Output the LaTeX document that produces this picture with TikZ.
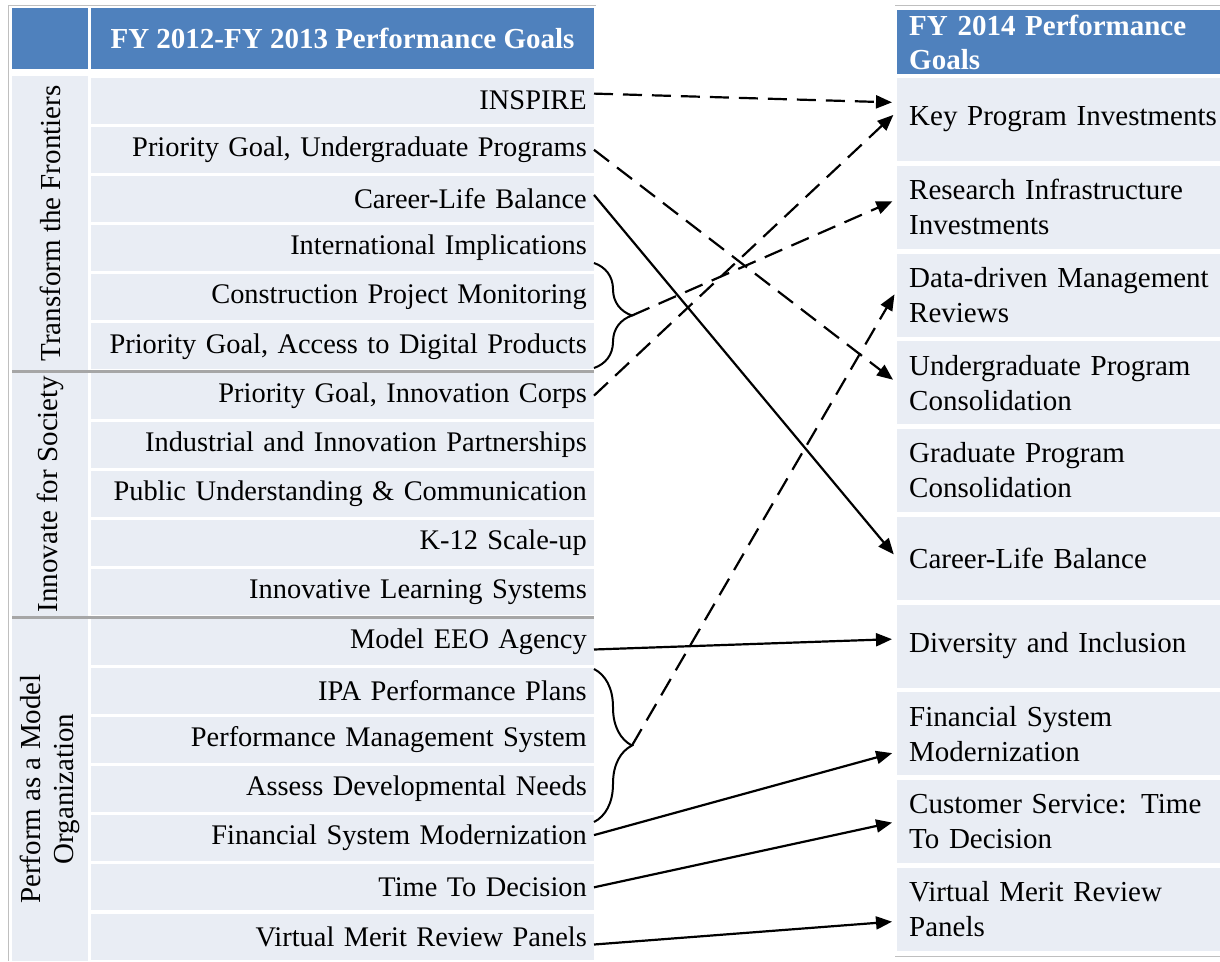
\documentclass[tikz,border=0pt]{standalone}
\usepackage{fontspec}
\setmainfont{Liberation Serif}
\usetikzlibrary{arrows.meta,decorations.pathreplacing}
\definecolor{hdrblue}{HTML}{4F81BD}
\definecolor{cellblue}{HTML}{E9EDF4}
\definecolor{sepgray}{HTML}{A6A6A6}

\begin{document}
\begin{tikzpicture}[x=1pt, y=-1pt,
    hdr/.style={fill=hdrblue, text=white, inner sep=0pt, font=\fontsize{29}{34}\selectfont\bfseries},
    cat/.style={fill=cellblue, rotate=90, minimum height=76pt, inner sep=0pt, align=center, font=\fontsize{29}{33}\selectfont},
    old/.style={fill=cellblue, anchor=east, minimum height=46pt, text width=489pt, inner xsep=7pt, inner ysep=0pt, align=right, font=\fontsize{28.4}{34}\selectfont},
    new/.style={fill=cellblue, anchor=west, minimum height=83pt, text width=318pt, inner xsep=12pt, inner ysep=0pt, align=left, font=\fontsize{29}{35}\selectfont},
    arrow/.style={-{Triangle[length=16pt,width=13pt]}, line width=2.2pt, shorten >=5pt},
    dasharrow/.style={arrow, dash pattern=on 19pt off 10pt},
    brace/.style={decorate, decoration={brace, amplitude=38pt}, line width=2pt}
]

\useasboundingbox (0,0) rectangle (1220,961);

% frame lines
\draw[black!25, line width=1pt] (8,961) -- (8,5) -- (596,5);
\draw[black!25, line width=1pt] (895,5) -- (1220,5);
\draw[black!25, line width=1pt] (895,956) -- (1220,956);

% headers
\node[hdr, minimum width=76pt, minimum height=61pt] (corner) at (50,38.5) {};
\node[hdr, minimum width=503pt, minimum height=61pt] (oldhdr) at (342.5,38.5) {FY 2012-FY 2013 Performance Goals};
\node[hdr, anchor=west, minimum height=64pt, text width=311pt, inner xsep=12pt, align=left] (newhdr) at (897,42) {FY 2014 Performance\\Goals};

% strategic goals
\node[cat, minimum width=295pt] (frontiers) at (50,223.5) {Transform the Frontiers};
\node[cat, minimum width=246pt] (society) at (50,494) {Innovate for Society};
\node[cat, minimum width=344pt] (modelorg) at (50,789) {Perform as a Model\\Organization};

% FY 2012-FY 2013 goals
\node[old] (inspire) at (594,100.6) {INSPIRE};
\node[old] (ugrad) at (594,149.8) {Priority Goal, Undergraduate Programs};
\node[old] (career) at (594,198.9) {Career-Life Balance};
\node[old] (intl) at (594,248.1) {International Implications};
\node[old] (constr) at (594,297.3) {Construction Project Monitoring};
\node[old] (digital) at (594,346.4) {Priority Goal, Access to Digital Products};
\node[old] (icorps) at (594,395.6) {Priority Goal, Innovation Corps};
\node[old] (indus) at (594,444.8) {Industrial and Innovation Partnerships};
\node[old] (public) at (594,494.0) {Public Understanding \& Communication};
\node[old] (ktwelve) at (594,543.1) {K-12 Scale-up};
\node[old] (ils) at (594,592.3) {Innovative Learning Systems};
\node[old] (eeo) at (594,641.5) {Model EEO Agency};
\node[old] (ipa) at (594,690.6) {IPA Performance Plans};
\node[old] (pms) at (594,739.8) {Performance Management System};
\node[old] (adn) at (594,789.0) {Assess Developmental Needs};
\node[old] (fsm) at (594,838.1) {Financial System Modernization};
\node[old] (ttd) at (594,887.3) {Time To Decision};
\node[old] (vmr) at (594,936.5) {Virtual Merit Review Panels};

\draw[sepgray, line width=3pt] (12,371) -- (594,371);
\draw[sepgray, line width=3pt] (12,617) -- (594,617);

% FY 2014 goals
\node[new] (kpi) at (897,119.5) {Key Program Investments};
\node[new] (rii) at (897,207.3) {Research Infrastructure\\Investments};
\node[new] (ddmr) at (897,295.0) {Data-driven Management\\Reviews};
\node[new] (upc) at (897,382.8) {Undergraduate Program\\Consolidation};
\node[new] (gpc) at (897,470.5) {Graduate Program\\Consolidation};
\node[new] (clb) at (897,558.3) {Career-Life Balance};
\node[new] (dai) at (897,646.0) {Diversity and Inclusion};
\node[new] (fsmod) at (897,733.8) {Financial System\\Modernization};
\node[new] (cstd) at (897,821.5) {Customer Service: Time\\To Decision};
\node[new] (vmrpan) at (897,909.3) {Virtual Merit Review\\Panels};

% braces
\coordinate (braceA) at (632,315.5);
\coordinate (braceB) at (632,745.5);
\draw[brace] (594,263) -- (594,368);
\draw[brace] (594,669) -- (594,822);

% connectors
\draw[dasharrow] ([yshift=7pt]inspire.east) -- ([yshift=17pt]kpi.west);
\draw[dasharrow] (ugrad.east) -- (upc.west);
\draw[arrow] ([yshift=4pt]career.east) -- (clb.west);
\draw[dasharrow] (braceA) -- ([yshift=8pt]rii.west);
\draw[dasharrow] (icorps.east) -- ([yshift=8pt]kpi.west);
\draw[arrow] ([yshift=-8pt]eeo.east) -- ([yshift=7pt]dai.west);
\draw[dasharrow] (braceB) -- ([yshift=5pt]ddmr.west);
\draw[arrow] ([yshift=3pt]fsm.east) -- ([yshift=-18pt]fsmod.west);
\draw[arrow] (ttd.east) -- (cstd.west);
\draw[arrow] ([yshift=-8pt]vmr.east) -- ([yshift=-12pt]vmrpan.west);

\end{tikzpicture}
\end{document}
